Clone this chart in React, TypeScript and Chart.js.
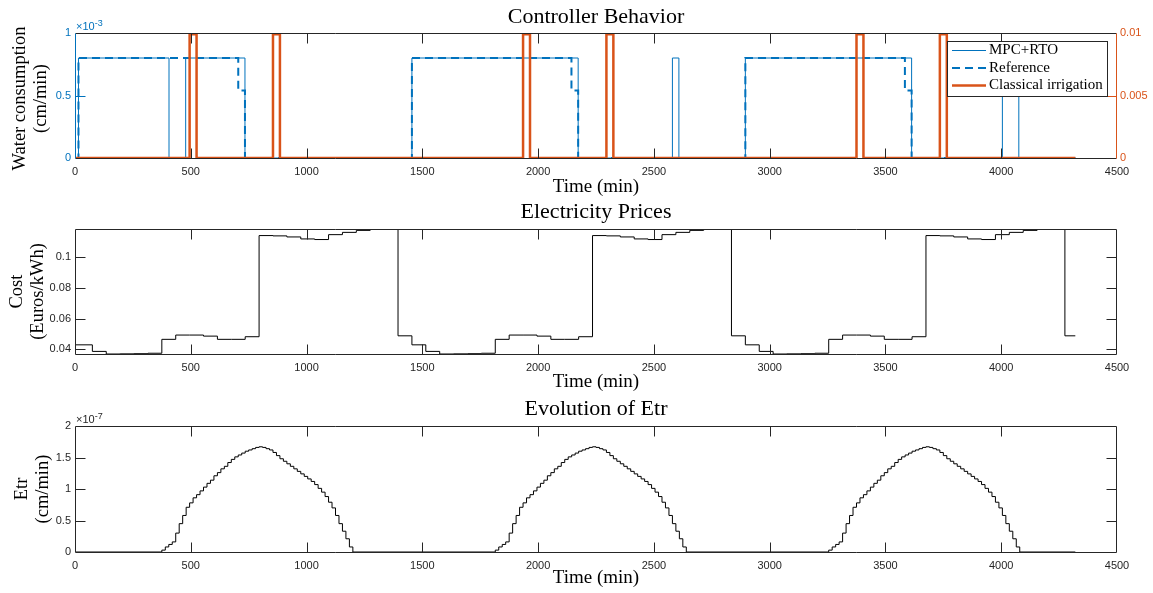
import React, { useEffect, useRef } from "react";
import { Chart, registerables } from "chart.js";

Chart.register(...registerables);

const BLUE = "#0072BD";
const ORANGE = "#D95319";
const DARK = "#262626";
const SERIF = '"Liberation Serif", "Times New Roman", serif';
const SANS = '"Liberation Sans", Arial, Helvetica, sans-serif';
const W = 1153;

// ---------------- shared time axis ----------------
const timeTicks = [0, 500, 1000, 1500, 2000, 2500, 3000, 3500, 4000, 4500];
const timeTickLabels = ["0", "500", "1000", "1500", "2000", "2500", "3000", "3500", "4000", "4500"];

// ---------------- panel 1: Controller Behavior ----------------
// left axis in units of 1e-3 cm/min
const waterTicks = [0, 0.5, 1];
const waterTickLabels = ["0", "0.5", "1"];
const irrigTicks = [0, 0.005, 0.01];
const irrigTickLabels = ["0", "0.005", "0.01"];

const mpcTimes = [0, 15, 406, 478, 734, 1455, 2173, 2580, 2608, 2895, 3613, 4005, 4076, 4320];
const mpcValues = [0, 0.8, 0, 0.8, 0, 0.8, 0, 0.8, 0, 0.8, 0, 0.8, 0, 0];

const refTimes = [0, 15, 705, 734, 1455, 2144, 2173, 2895, 3584, 3613, 4320];
const refValues = [0, 0.8, 0.54, 0, 0.8, 0.54, 0, 0.8, 0.54, 0, 0];

const classicTimes = [0, 495, 525, 855, 885, 1935, 1965, 2295, 2325, 3375, 3405, 3735, 3765, 4320];
const classicValues = [0, 0.0099, 0, 0.0099, 0, 0.0099, 0, 0.0099, 0, 0.0099, 0, 0.0099, 0, 0];

const legendLabels = ["MPC+RTO", "Reference", "Classical irrigation"];

// ---------------- panel 2: Electricity Prices ----------------
const priceTicks = [0.04, 0.06, 0.08, 0.1];
const priceTickLabels = ["0.04", "0.06", "0.08", "0.1"];
const priceMin = 0.0368;
const priceMax = 0.1186;

const priceTimes = [
  0, 75, 135, 195, 255, 315, 375, 435, 495, 555, 615, 675, 735, 795, 855, 915, 975, 1035, 1095, 1155, 1215, 1275, 1335, 1395,
  1455, 1515, 1575, 1635, 1695, 1755, 1815, 1875, 1935, 1995, 2055, 2115, 2175, 2235, 2295, 2355, 2415, 2475, 2535, 2595, 2655, 2715, 2775, 2835,
  2895, 2955, 3015, 3075, 3135, 3195, 3255, 3315, 3375, 3435, 3495, 3555, 3615, 3675, 3735, 3795, 3855, 3915, 3975, 4035, 4095, 4155, 4215, 4275,
  4320,
];
const priceValues = [
  0.0428, 0.0385, 0.0368, 0.0369, 0.037, 0.0373, 0.0464, 0.0492, 0.0492, 0.0485, 0.0464, 0.0464, 0.0481, 0.1143, 0.1141, 0.1134, 0.1121, 0.1117, 0.1149, 0.1164, 0.1177, 0.1186, 0.1186, 0.0487,
  0.0428, 0.0385, 0.0368, 0.0369, 0.037, 0.0373, 0.0464, 0.0492, 0.0492, 0.0485, 0.0464, 0.0464, 0.0481, 0.1143, 0.1141, 0.1134, 0.1121, 0.1117, 0.1149, 0.1164, 0.1177, 0.1186, 0.1186, 0.0487,
  0.0428, 0.0385, 0.0368, 0.0369, 0.037, 0.0373, 0.0464, 0.0492, 0.0492, 0.0485, 0.0464, 0.0464, 0.0481, 0.1143, 0.1141, 0.1134, 0.1121, 0.1117, 0.1149, 0.1164, 0.1177, 0.1186, 0.1186, 0.0487,
  0.0487,
];

// ---------------- panel 3: Evolution of Etr ----------------
// values in units of 1e-7 cm/min
const etrTicks = [0, 0.5, 1, 1.5, 2];
const etrTickLabels = ["0", "0.5", "1", "1.5", "2"];
const etrDayOffsets = [0, 1440, 2880];
const etrStepTimes = [
  375, 390, 405, 420, 435, 450, 465, 480, 495, 510, 525, 540, 555, 570, 585, 600, 615, 630, 645, 660, 675, 690, 705, 720, 735, 750, 765, 780, 795,
  810, 825, 840, 855, 870, 885, 900, 915, 930, 945, 960, 975, 990, 1005, 1020, 1035, 1050, 1065, 1080, 1095, 1110, 1125, 1140, 1155, 1170, 1185, 1200,
];
const etrStepValues = [
  0.03, 0.08, 0.12, 0.16, 0.3, 0.45, 0.58, 0.71, 0.78, 0.86, 0.91, 0.97, 1.03, 1.09, 1.14, 1.21, 1.26, 1.32, 1.36, 1.42, 1.47, 1.51, 1.54, 1.57, 1.6, 1.62, 1.64, 1.66, 1.67,
  1.66, 1.64, 1.62, 1.58, 1.53, 1.48, 1.44, 1.4, 1.36, 1.32, 1.28, 1.24, 1.2, 1.16, 1.12, 1.07, 1.01, 0.95, 0.88, 0.79, 0.7, 0.58, 0.45, 0.33, 0.21, 0.08, 0,
];
const etrEnd = 4320;

// ---------------- helpers ----------------
const pts = (xs: number[], ys: number[]) => xs.map((x, i) => ({ x, y: ys[i] }));

function etrPoints() {
  const out: { x: number; y: number }[] = [{ x: 0, y: 0 }];
  etrDayOffsets.forEach((off) => {
    etrStepTimes.forEach((t, i) => out.push({ x: off + t, y: etrStepValues[i] }));
  });
  out.push({ x: etrEnd, y: 0 });
  return out;
}

// Stairs: value at point i is held until point i+1 (horizontal first, then vertical)
const STAIRS = "before";

function xAxis(height: number) {
  return {
    type: "linear",
    position: "bottom",
    min: 0,
    max: 4500,
    bounds: "data",
    afterBuildTicks: (s: any) => {
      s.ticks = timeTicks.map((v) => ({ value: v }));
    },
    afterFit: (s: any) => {
      s.height = height;
    },
    grid: { display: false, drawTicks: false },
    border: { display: false },
    ticks: {
      autoSkip: false,
      maxRotation: 0,
      padding: 7,
      color: DARK,
      font: { family: SANS, size: 11 },
      callback: (_v: any, i: number) => timeTickLabels[i],
    },
  };
}

function yAxis(opts: { min: number; max: number; ticks: number[]; labels: string[]; color: string; position: string; width: number; padding: number }) {
  return {
    type: "linear",
    position: opts.position,
    min: opts.min,
    max: opts.max,
    bounds: "data",
    afterBuildTicks: (s: any) => {
      s.ticks = opts.ticks.map((v) => ({ value: v }));
    },
    afterFit: (s: any) => {
      s.width = opts.width;
    },
    grid: { display: false, drawTicks: false },
    border: { display: false },
    ticks: {
      autoSkip: false,
      padding: opts.padding,
      color: opts.color,
      font: { family: SANS, size: 11 },
      callback: (_v: any, i: number) => opts.labels[i],
    },
  };
}

type Decor = {
  title: string;
  titleY: number;
  xlabelY: number;
  ylabels: { text: string; x: number }[];
  ylabelDy: number;
  exponent?: { base: string; sup: string; color: string };
  leftColor: string;
  rightColor: string;
  leftId: string;
  leftTicks: number[];
  rightId: string;
  rightTicks: number[];
  legend?: boolean;
};

function line(ctx: CanvasRenderingContext2D, x1: number, y1: number, x2: number, y2: number, color: string, w = 1) {
  ctx.beginPath();
  ctx.strokeStyle = color;
  ctx.lineWidth = w;
  ctx.moveTo(x1, y1);
  ctx.lineTo(x2, y2);
  ctx.stroke();
}

function makeDecor(d: Decor) {
  return {
    id: "decor",
    afterDatasetsDraw(chart: any) {
      const ctx: CanvasRenderingContext2D = chart.ctx;
      const { left, right, top, bottom } = chart.chartArea;
      const xs = chart.scales.x;
      const yl = chart.scales[d.leftId];
      const yr = chart.scales[d.rightId];
      const TL = 10;
      ctx.save();
      ctx.setLineDash([]);
      const L = Math.round(left) + 0.5;
      const R = Math.round(right) - 0.5;
      const T = Math.round(top) + 0.5;
      const B = Math.round(bottom) + 0.5;
      // box
      line(ctx, L, T, R, T, DARK);
      line(ctx, L, B, R, B, DARK);
      line(ctx, L, T, L, B, d.leftColor);
      line(ctx, R, T, R, B, d.rightColor);
      // x ticks
      timeTicks.forEach((v) => {
        const x = Math.round(xs.getPixelForValue(v)) + 0.5;
        if (x <= L + 1 || x >= R - 1) return;
        line(ctx, x, B, x, B - TL, DARK);
        line(ctx, x, T, x, T + TL, DARK);
      });
      d.leftTicks.forEach((v) => {
        const y = Math.round(yl.getPixelForValue(v)) + 0.5;
        if (y <= T + 1 || y >= B - 1) return;
        line(ctx, L, y, L + TL, y, d.leftColor);
      });
      d.rightTicks.forEach((v) => {
        const y = Math.round(yr.getPixelForValue(v)) + 0.5;
        if (y <= T + 1 || y >= B - 1) return;
        line(ctx, R, y, R - TL, y, d.rightColor);
      });

      // titles
      ctx.fillStyle = "#000";
      ctx.textAlign = "center";
      ctx.textBaseline = "middle";
      ctx.font = `22px ${SERIF}`;
      const cx = (left + right) / 2;
      ctx.fillText(d.title, cx, d.titleY);
      ctx.font = `19px ${SERIF}`;
      ctx.fillText("Time (min)", cx, d.xlabelY);
      const cy = (top + bottom) / 2 + d.ylabelDy;
      ctx.font = `18.5px ${SERIF}`;
      d.ylabels.forEach((yl2) => {
        ctx.save();
        ctx.translate(yl2.x, cy);
        ctx.rotate(-Math.PI / 2);
        ctx.fillText(yl2.text, 0, 0);
        ctx.restore();
      });

      // exponent
      if (d.exponent) {
        ctx.fillStyle = d.exponent.color;
        ctx.textAlign = "left";
        ctx.textBaseline = "alphabetic";
        ctx.font = `11px ${SANS}`;
        const bx = left + 1;
        const by = top - 3;
        ctx.fillText(d.exponent.base, bx, by);
        const w = ctx.measureText(d.exponent.base).width;
        ctx.font = `9px ${SANS}`;
        ctx.fillText(d.exponent.sup, bx + w, by - 4);
      }

      // legend
      if (d.legend) {
        const lx = 947.5, ly = 41.5, lw = 160, lh = 55;
        ctx.fillStyle = "#fff";
        ctx.fillRect(lx, ly, lw, lh);
        ctx.strokeStyle = DARK;
        ctx.lineWidth = 1;
        ctx.strokeRect(lx, ly, lw, lh);
        const rows = [50.5, 68, 85.5];
        const styles = [
          { c: BLUE, w: 1, dash: [] as number[] },
          { c: BLUE, w: 2, dash: [8, 5] },
          { c: ORANGE, w: 2.5, dash: [] as number[] },
        ];
        rows.forEach((ry, i) => {
          ctx.save();
          ctx.setLineDash(styles[i].dash);
          line(ctx, 952, ry, 986, ry, styles[i].c, styles[i].w);
          ctx.restore();
          ctx.fillStyle = "#000";
          ctx.font = `15px ${SERIF}`;
          ctx.textAlign = "left";
          ctx.textBaseline = "middle";
          ctx.fillText(legendLabels[i], 989, ry);
        });
      }
      ctx.restore();
    },
  };
}

const common = {
  responsive: false,
  animation: false,
  devicePixelRatio: 1,
  events: [] as string[],
  plugins: { legend: { display: false }, tooltip: { enabled: false }, title: { display: false } },
  elements: { point: { radius: 0 }, line: { tension: 0 } },
};

function config1(): any {
  return {
    type: "line",
    data: {
      datasets: [
        { label: legendLabels[2], data: pts(classicTimes, classicValues), yAxisID: "y1", stepped: STAIRS, borderColor: ORANGE, borderWidth: 2.5, pointRadius: 0, order: 0 },
        { label: legendLabels[1], data: pts(refTimes, refValues), yAxisID: "y", stepped: STAIRS, borderColor: BLUE, borderWidth: 2, borderDash: [8, 5], pointRadius: 0, order: 1 },
        { label: legendLabels[0], data: pts(mpcTimes, mpcValues), yAxisID: "y", stepped: STAIRS, borderColor: BLUE, borderWidth: 1, pointRadius: 0, order: 2 },
      ],
    },
    options: {
      ...common,
      layout: { padding: { top: 33, left: 0, right: 0, bottom: 0 } },
      scales: {
        x: xAxis(38),
        y: yAxis({ min: 0, max: 1, ticks: waterTicks, labels: waterTickLabels, color: BLUE, position: "left", width: 75, padding: 4 }),
        y1: yAxis({ min: 0, max: 0.01, ticks: irrigTicks, labels: irrigTickLabels, color: ORANGE, position: "right", width: 36, padding: 3 }),
      },
    },
    plugins: [
      makeDecor({
        title: "Controller Behavior",
        titleY: 17,
        xlabelY: 187,
        ylabels: [
          { text: "Water consumption", x: 20 },
          { text: "(cm/min)", x: 41 },
        ],
        ylabelDy: 3,
        exponent: { base: "×10", sup: "-3", color: BLUE },
        leftColor: BLUE,
        rightColor: ORANGE,
        leftId: "y",
        leftTicks: waterTicks,
        rightId: "y1",
        rightTicks: irrigTicks,
        legend: true,
      }),
    ],
  };
}

function config2(): any {
  return {
    type: "line",
    data: {
      datasets: [
        { label: "Cost", data: pts(priceTimes, priceValues), stepped: STAIRS, borderColor: "#000", borderWidth: 1, pointRadius: 0 },
      ],
    },
    options: {
      ...common,
      layout: { padding: { top: 33, left: 0, right: 36, bottom: 0 } },
      scales: {
        x: xAxis(38),
        y: yAxis({ min: priceMin, max: priceMax, ticks: priceTicks, labels: priceTickLabels, color: DARK, position: "left", width: 75, padding: 4 }),
      },
    },
    plugins: [
      makeDecor({
        title: "Electricity Prices",
        titleY: 16,
        xlabelY: 186,
        ylabels: [
          { text: "Cost", x: 17 },
          { text: "(Euros/kWh)", x: 38 },
        ],
        ylabelDy: 0,
        leftColor: DARK,
        rightColor: DARK,
        leftId: "y",
        leftTicks: priceTicks,
        rightId: "y",
        rightTicks: priceTicks,
      }),
    ],
  };
}

function config3(): any {
  return {
    type: "line",
    data: {
      datasets: [{ label: "Etr", data: etrPoints(), stepped: STAIRS, borderColor: "#000", borderWidth: 1, pointRadius: 0 }],
    },
    options: {
      ...common,
      layout: { padding: { top: 34, left: 0, right: 36, bottom: 0 } },
      scales: {
        x: xAxis(41),
        y: yAxis({ min: 0, max: 2, ticks: etrTicks, labels: etrTickLabels, color: DARK, position: "left", width: 75, padding: 4 }),
      },
    },
    plugins: [
      makeDecor({
        title: "Evolution of Etr",
        titleY: 17,
        xlabelY: 186,
        ylabels: [
          { text: "Etr", x: 22 },
          { text: "(cm/min)", x: 43 },
        ],
        ylabelDy: 0,
        exponent: { base: "×10", sup: "-7", color: DARK },
        leftColor: DARK,
        rightColor: DARK,
        leftId: "y",
        leftTicks: etrTicks,
        rightId: "y",
        rightTicks: etrTicks,
      }),
    ],
  };
}

export default function App() {
  const c1 = useRef<HTMLCanvasElement>(null);
  const c2 = useRef<HTMLCanvasElement>(null);
  const c3 = useRef<HTMLCanvasElement>(null);

  useEffect(() => {
    const charts = [
      new Chart(c1.current as HTMLCanvasElement, config1()),
      new Chart(c2.current as HTMLCanvasElement, config2()),
      new Chart(c3.current as HTMLCanvasElement, config3()),
    ];
    return () => charts.forEach((c) => c.destroy());
  }, []);

  const cs = (top: number): React.CSSProperties => ({ position: "absolute", left: 0, top, display: "block" });

  return (
    <div style={{ position: "fixed", left: 0, top: 0, width: W, height: 593, background: "#fff", overflow: "hidden" }}>
      <canvas ref={c1} width={W} height={196} style={cs(0)} />
      <canvas ref={c2} width={W} height={196} style={cs(196)} />
      <canvas ref={c3} width={W} height={201} style={cs(392)} />
    </div>
  );
}
